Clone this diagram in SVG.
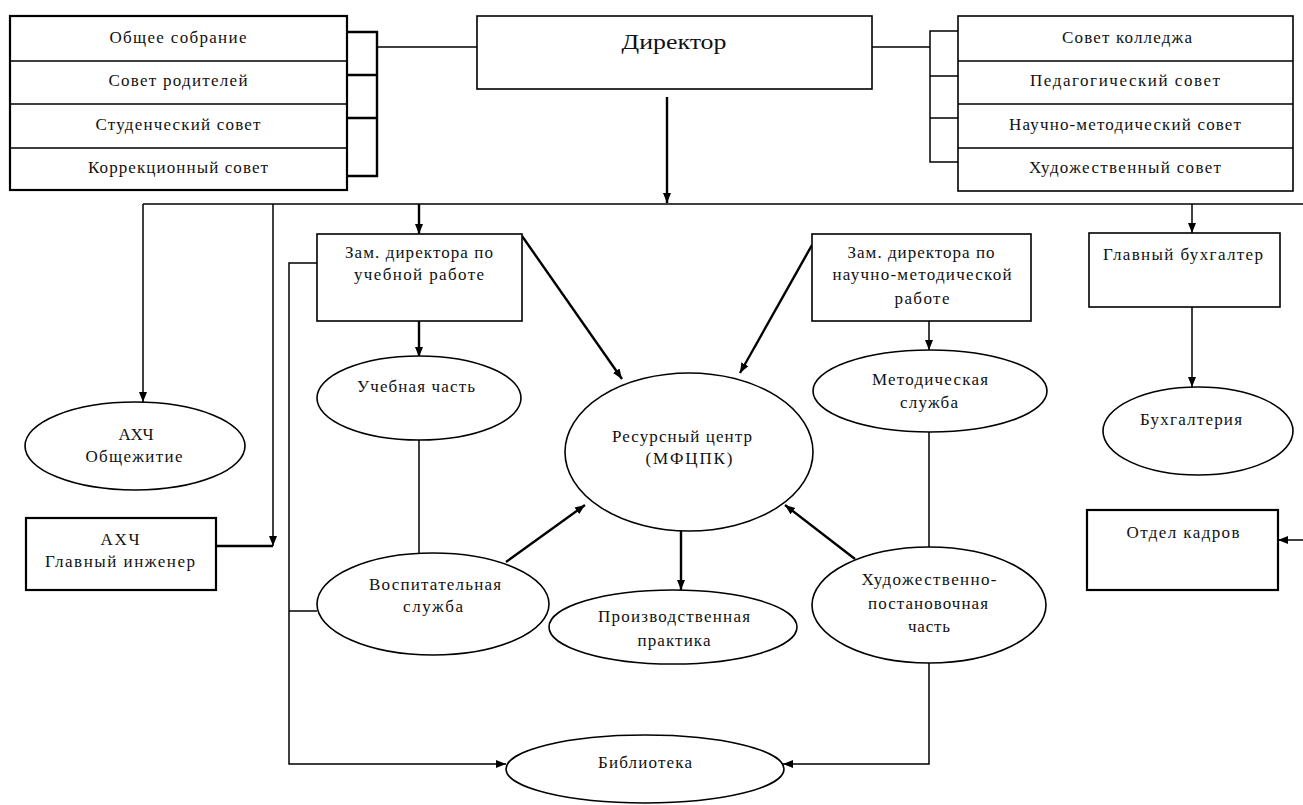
<svg xmlns="http://www.w3.org/2000/svg" width="1303" height="805" viewBox="0 0 1303 805">
<defs>
<marker id="arr" markerUnits="userSpaceOnUse" markerWidth="10" markerHeight="10" viewBox="0 0 10 10" refX="10" refY="5" orient="auto">
<path d="M0,1 L10,5 L0,9 Z" fill="#000"/>
</marker>
<style>
.box{fill:#fff;stroke:#000;stroke-width:1.6}
.thick{fill:#fff;stroke:#000;stroke-width:2.2}
.ell{fill:#fff;stroke:#000;stroke-width:1.6}
.div{stroke:#000;stroke-width:1.3}
.ln{fill:none;stroke:#000;stroke-width:1.5}
.lnb{fill:none;stroke:#000;stroke-width:2.4}
text{font-family:"Liberation Serif","Times New Roman",serif;font-size:17px;fill:#111;text-anchor:middle}
</style>
</defs>
<rect width="1303" height="805" fill="#fff"/>

<g id="connectors">
<path class="lnb" d="M347 32 H377 V176 H347 M347 75 H377 M347 118 H377"/>
<path class="ln" d="M377 47 H477"/>
<path class="ln" d="M872 47 H930"/>
<path class="ln" d="M958 31 H930 V162 H958 M930 76 H958 M930 118 H958"/>
<path class="lnb" d="M667 97 V203" marker-end="url(#arr)"/>
<path class="ln" d="M143 204 H1303"/>
<path class="ln" d="M143 204 V402" marker-end="url(#arr)"/>
<path class="ln" d="M273 204 V546" marker-end="url(#arr)"/>
<path class="lnb" d="M216 546 H273"/>
<path class="lnb" d="M419 204 V234" marker-end="url(#arr)"/>
<path class="ln" d="M1192 204 V233" marker-end="url(#arr)"/>
<path class="ln" d="M1192 307 V387" marker-end="url(#arr)"/>
<path class="ln" d="M1303 540 H1278" marker-end="url(#arr)"/>
<path class="ln" d="M317 263 H289 V764 H506" marker-end="url(#arr)"/>
<path class="ln" d="M289 611 H317"/>
<path class="lnb" d="M419 321 V357" marker-end="url(#arr)"/>
<path class="ln" d="M419 440 V553"/>
<path class="lnb" d="M522 236 L622 379" marker-end="url(#arr)"/>
<path class="lnb" d="M812 245 L740 373" marker-end="url(#arr)"/>
<path class="ln" d="M929 321 V350" marker-end="url(#arr)"/>
<path class="ln" d="M929 432 V547"/>
<path class="lnb" d="M855 559 L785 505" marker-end="url(#arr)"/>
<path class="lnb" d="M506 562 L585 505" marker-end="url(#arr)"/>
<path class="lnb" d="M681 530 V590" marker-end="url(#arr)"/>
<path class="ln" d="M929 663 V764 H783" marker-end="url(#arr)"/>
</g>

<g id="left-councils">
<rect class="thick" x="10" y="16" width="337" height="174"/>
<path class="div" d="M10 61 H347 M10 104 H347 M10 148 H347"/>
<text x="178" y="43" textLength="137" lengthAdjust="spacing">Общее собрание</text>
<text x="178" y="86" textLength="139" lengthAdjust="spacing">Совет родителей</text>
<text x="178" y="130" textLength="165" lengthAdjust="spacing">Студенческий совет</text>
<text x="178" y="173" textLength="180" lengthAdjust="spacing">Коррекционный совет</text>
</g>

<g id="director">
<rect class="box" x="477" y="16" width="395" height="73"/>
<text x="674" y="49" style="font-size:22px" textLength="105" lengthAdjust="spacingAndGlyphs">Директор</text>
</g>

<g id="right-councils">
<rect class="box" x="958" y="16" width="335" height="175"/>
<path class="div" d="M958 61 H1293 M958 104 H1293 M958 148 H1293"/>
<text x="1127" y="43" textLength="130" lengthAdjust="spacing">Совет колледжа</text>
<text x="1125" y="86" textLength="190" lengthAdjust="spacing">Педагогический совет</text>
<text x="1125" y="130" textLength="232" lengthAdjust="spacing">Научно-методический совет</text>
<text x="1125" y="173" textLength="192" lengthAdjust="spacing">Художественный совет</text>
</g>

<g id="zam-ur">
<rect class="box" x="317" y="234" width="205" height="87"/>
<text x="419" y="258" textLength="148" lengthAdjust="spacing">Зам. директора по</text>
<text x="419" y="280" textLength="130" lengthAdjust="spacing">учебной работе</text>
</g>

<g id="zam-nm">
<rect class="box" x="812" y="234" width="219" height="87"/>
<text x="921" y="258" textLength="147" lengthAdjust="spacing">Зам. директора по</text>
<text x="922" y="280" textLength="179" lengthAdjust="spacing">научно-методической</text>
<text x="922" y="304" textLength="55" lengthAdjust="spacing">работе</text>
</g>

<g id="gl-buh">
<rect class="box" x="1089" y="233" width="191" height="74"/>
<text x="1183" y="260" textLength="160" lengthAdjust="spacing">Главный бухгалтер</text>
</g>

<g id="ahch-obsch">
<ellipse class="ell" cx="135" cy="446" rx="110" ry="44"/>
<text x="136" y="440" textLength="35" lengthAdjust="spacing">АХЧ</text>
<text x="134" y="462" textLength="97" lengthAdjust="spacing">Общежитие</text>
</g>

<g id="ahch-eng">
<rect class="thick" x="26" y="518" width="190" height="72"/>
<text x="120" y="545" textLength="39" lengthAdjust="spacing">АХЧ</text>
<text x="120" y="567" textLength="150" lengthAdjust="spacing">Главный инженер</text>
</g>

<g id="uch-chast">
<ellipse class="ell" cx="419" cy="398" rx="102" ry="42"/>
<text x="416" y="392" textLength="118" lengthAdjust="spacing">Учебная часть</text>
</g>

<g id="resurs">
<ellipse class="ell" cx="689" cy="452" rx="124" ry="79"/>
<text x="682" y="442" textLength="140" lengthAdjust="spacing">Ресурсный центр</text>
<text x="689" y="464" textLength="87" lengthAdjust="spacing">(МФЦПК)</text>
</g>

<g id="metod">
<ellipse class="ell" cx="930" cy="391" rx="117" ry="41"/>
<text x="930" y="385" textLength="116" lengthAdjust="spacing">Методическая</text>
<text x="929" y="408" textLength="58" lengthAdjust="spacing">служба</text>
</g>

<g id="buh">
<ellipse class="ell" cx="1198" cy="431" rx="95" ry="44"/>
<text x="1191" y="425" textLength="102" lengthAdjust="spacing">Бухгалтерия</text>
</g>

<g id="kadry">
<rect class="thick" x="1087" y="510" width="191" height="80"/>
<text x="1183" y="538" textLength="113" lengthAdjust="spacing">Отдел кадров</text>
</g>

<g id="vospit">
<ellipse class="ell" cx="433" cy="604" rx="116" ry="51"/>
<text x="435" y="590" textLength="132" lengthAdjust="spacing">Воспитательная</text>
<text x="433" y="612" textLength="60" lengthAdjust="spacing">служба</text>
</g>

<g id="proizv">
<ellipse class="ell" cx="673" cy="627" rx="124" ry="37"/>
<text x="674" y="622" textLength="152" lengthAdjust="spacing">Производственная</text>
<text x="674" y="646" textLength="73" lengthAdjust="spacing">практика</text>
</g>

<g id="hud">
<ellipse class="ell" cx="929" cy="605" rx="117" ry="58"/>
<text x="929" y="585" textLength="135" lengthAdjust="spacing">Художественно-</text>
<text x="928" y="609" textLength="120" lengthAdjust="spacing">постановочная</text>
<text x="929" y="632" textLength="42" lengthAdjust="spacing">часть</text>
</g>

<g id="biblio">
<ellipse class="ell" cx="645" cy="769" rx="139" ry="34"/>
<text x="645" y="768" textLength="94" lengthAdjust="spacing">Библиотека</text>
</g>
</svg>
